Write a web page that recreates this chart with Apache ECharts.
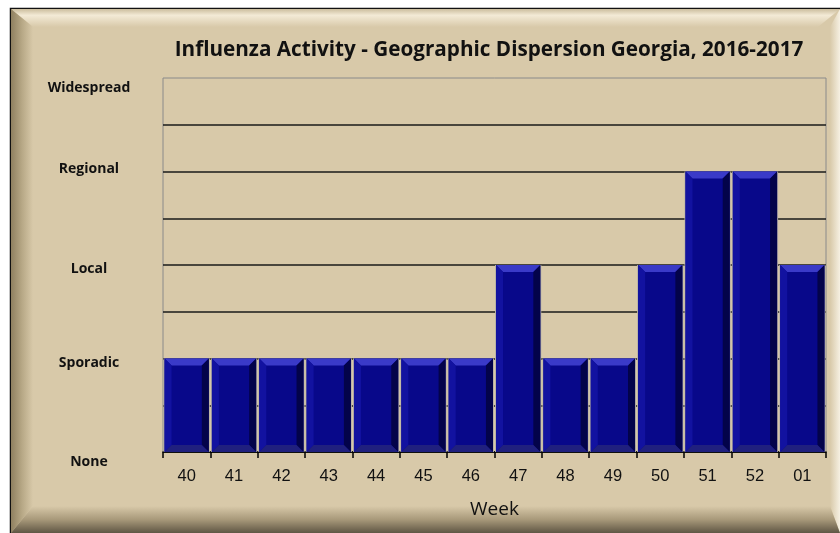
<!DOCTYPE html>
<html><head><meta charset="utf-8">
<script src="https://cdn.jsdelivr.net/npm/echarts@6/dist/echarts.min.js"></script>
<style>html,body{margin:0;padding:0;background:#fff}#c{width:840px;height:533px}</style></head>
<body><div id="c"></div>
<script>
const chartTitle = 'Influenza Activity - Geographic Dispersion Georgia, 2016-2017';
const xAxisTitle = 'Week';
const weeks = ['40','41','42','43','44','45','46','47','48','49','50','51','52','01'];
const activity = [1,1,1,1,1,1,1,2,1,1,2,3,3,2];
const levelNames = ['None','Sporadic','Local','Regional','Widespread'];

const chart = echarts.init(document.getElementById('c'), null, {renderer:'canvas'});
const beige = '#D8C9A9';

function bevelBar(params, api){
  const idx = api.value(0), v = api.value(1);
  const top = api.coord([idx, v]);
  const base = api.coord([idx, 0]);
  const w = api.size([1, 0])[0] * 0.935;
  const x0 = top[0] - w/2, x1 = top[0] + w/2, y0 = top[1], y1 = base[1];
  const b = 7;
  return {type:'group', children:[
    {type:'rect', shape:{x:x0-1, y:y0, width:w+2, height:y1-y0}, style:{fill:'#b8b2a6'}},
    {type:'rect', shape:{x:x0, y:y0, width:w, height:y1-y0}, style:{fill:'#08088a'}},
    {type:'polygon', shape:{points:[[x0,y0],[x1,y0],[x1-b,y0+b],[x0+b,y0+b]]}, style:{fill:'#3a3ac8'}},
    {type:'polygon', shape:{points:[[x0,y0],[x0+b,y0+b],[x0+b,y1-b],[x0,y1]]}, style:{fill:'#1212a0'}},
    {type:'polygon', shape:{points:[[x1,y0],[x1-b,y0+b],[x1-b,y1-b],[x1,y1]]}, style:{fill:'#03034a'}},
    {type:'polygon', shape:{points:[[x0,y1],[x0+b,y1-b],[x1-b,y1-b],[x1,y1]]}, style:{fill:'#20207e'}}
  ]};
}

const labelFont = {fontFamily:'Open Sans', fontWeight:'bold', fontSize:14, color:'#111'};
const option = {
  backgroundColor: '#ffffff',
  animation: false,
  graphic: [
    {type:'rect', z:-10, shape:{x:10.5, y:8.5, width:840, height:540}, style:{fill:beige, stroke:'#111', lineWidth:1.5}},
    {type:'polygon', z:-9, shape:{points:[[11,9],[840,9],[818,27],[33,27]]},
      style:{fill:{type:'linear',x:0,y:0,x2:0,y2:1,colorStops:[{offset:0,color:'#cbbd9d'},{offset:0.35,color:'#f3ead6'},{offset:1,color:beige}]}}},
    {type:'polygon', z:-9, shape:{points:[[11,9],[33,27],[33,506],[11,533]]},
      style:{fill:{type:'linear',x:0,y:0,x2:1,y2:0,colorStops:[{offset:0,color:'#8f8060'},{offset:0.5,color:'#b7a886'},{offset:1,color:beige}]}}},
    {type:'polygon', z:-9, shape:{points:[[840,9],[840,533],[830,506],[830,27]]},
      style:{fill:{type:'linear',x:0,y:0,x2:1,y2:0,colorStops:[{offset:0,color:beige},{offset:1,color:'#f6f0e2'}]}}},
    {type:'polygon', z:-9, shape:{points:[[11,533],[33,506],[830,506],[840,533]]},
      style:{fill:{type:'linear',x:0,y:0,x2:0,y2:1,colorStops:[{offset:0,color:beige},{offset:0.5,color:'#a8997a'},{offset:1,color:'#5f5644'}]}}}
  ],
  title: {
    text: chartTitle, left: 484, top: 35, textAlign: 'center',
    textStyle: {fontFamily:'Open Sans', fontWeight:'bold', fontSize:20.7, color:'#111'}
  },
  grid: {left:163, right:14, top:78, bottom:81, show:true, borderColor:'#8a8a8a', borderWidth:1, backgroundColor:'transparent'},
  xAxis: {
    type:'category', data: weeks,
    name: xAxisTitle, nameLocation:'middle', nameGap:48,
    nameTextStyle:{fontFamily:'Open Sans', fontSize:19, color:'#111'},
    axisLine:{show:true, lineStyle:{color:'#000', width:1.5}},
    axisTick:{show:true, length:6, lineStyle:{color:'#000', width:1.5}},
    axisLabel:{fontFamily:'Liberation Sans', fontSize:16.5, color:'#111', margin:16}
  },
  yAxis: {
    type:'value', min:0, max:4, interval:0.5,
    axisLine:{show:false}, axisTick:{show:false},
    splitLine:{show:true, showMaxLine:false, lineStyle:{color:'#1a1a1a', width:1.5}},
    axisLabel:{
      align:'center', margin:74, ...labelFont,
      formatter: function(v){ return (Number.isInteger(v) && levelNames[v]) ? '{l' + v + '|' + levelNames[v] + '}' : ''; },
      rich: {
        l0: {...labelFont, padding:[20,0,0,0]},
        l1: {...labelFont, padding:[10,0,0,0]},
        l2: {...labelFont, padding:[8,0,0,0]},
        l3: {...labelFont, padding:[0,0,4,0]},
        l4: {...labelFont, padding:[20,0,0,0]}
      }
    }
  },
  series: [{
    type:'custom', renderItem: bevelBar,
    data: activity.map((v,i)=>[i,v]),
    encode:{x:0, y:1}, z:3
  }]
};
chart.setOption(option);
</script></body></html>
